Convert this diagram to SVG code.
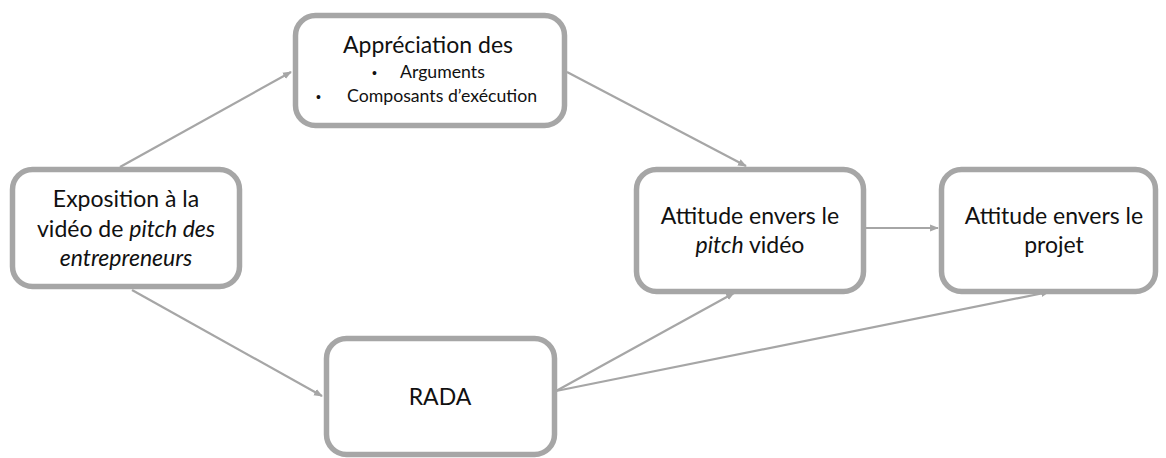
<svg xmlns="http://www.w3.org/2000/svg" width="1166" height="458" viewBox="0 0 1166 458">
<defs>
<style>
.box{fill:#fff;stroke:#A6A6A6;stroke-width:5.5}
.t{font-family:Lato,"Open Sans","Liberation Sans",sans-serif;font-size:23px;fill:#111;text-anchor:middle}
.s{font-family:Lato,"Open Sans","Liberation Sans",sans-serif;font-size:17.7px;fill:#111}
.b{font-family:"Liberation Sans",sans-serif;font-size:14px;fill:#111}
.e{fill:none;stroke:#A6A6A6;stroke-width:2.2}
</style>
<marker id="arr" viewBox="0 0 10 10" refX="9" refY="5" markerWidth="4" markerHeight="4" orient="auto" markerUnits="strokeWidth">
<path d="M0,1 L10,5 L0,9 z" fill="#A6A6A6"/>
</marker>
</defs>
<rect width="1166" height="458" fill="#fff"/>
<g id="connectors">
<line class="e" x1="120" y1="167" x2="291" y2="72" marker-end="url(#arr)"/>
<line class="e" x1="567" y1="72" x2="746" y2="166" marker-end="url(#arr)"/>
<line class="e" x1="132" y1="290" x2="322" y2="396" marker-end="url(#arr)"/>
<line class="e" x1="866" y1="228" x2="938" y2="228" marker-end="url(#arr)"/>
<line class="e" x1="556" y1="391" x2="734" y2="293" marker-end="url(#arr)"/>
<line class="e" x1="556" y1="391" x2="1049" y2="292" marker-end="url(#arr)"/>
</g>
<g id="node-appreciation">
<rect class="box" x="295.5" y="15.5" width="269" height="110" rx="20"/>
<text class="t" x="428" y="53">Appréciation des</text>
<text class="b" x="372" y="78">•</text>
<text class="s" x="400" y="78">Arguments</text>
<text class="b" x="316" y="102">•</text>
<text class="s" x="347" y="102">Composants d’exécution</text>
</g>
<g id="node-exposition">
<rect class="box" x="12.5" y="169.5" width="227" height="117" rx="20"/>
<text class="t" x="126" y="207">Exposition à la</text>
<text class="t" x="126" y="237">vidéo de <tspan font-style="italic">pitch des</tspan></text>
<text class="t" x="126" y="266" font-style="italic">entrepreneurs</text>
</g>
<g id="node-attitude-pitch">
<rect class="box" x="636.5" y="169.5" width="227" height="122" rx="20"/>
<text class="t" x="750" y="224">Attitude envers le</text>
<text class="t" x="750" y="253"><tspan font-style="italic">pitch</tspan> vidéo</text>
</g>
<g id="node-attitude-projet">
<rect class="box" x="941.5" y="169.5" width="214" height="122" rx="20"/>
<text class="t" x="1054" y="224">Attitude envers le</text>
<text class="t" x="1054" y="253">projet</text>
</g>
<g id="node-rada">
<rect class="box" x="326.5" y="338.5" width="228" height="116" rx="20"/>
<text class="t" x="440" y="405">RADA</text>
</g>
</svg>
